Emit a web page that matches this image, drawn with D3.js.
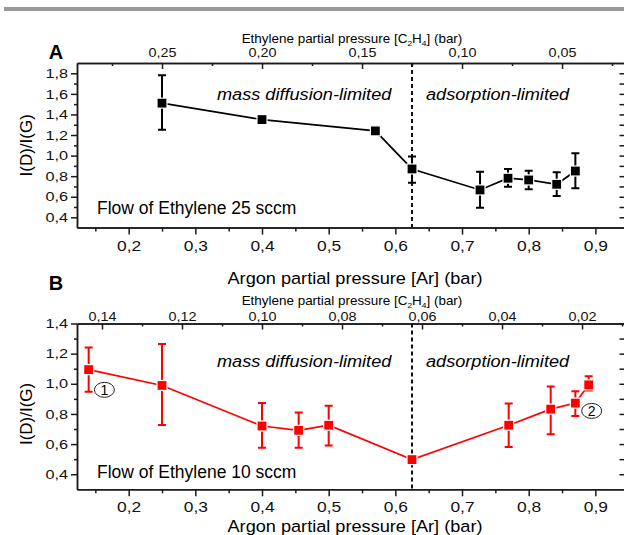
<!DOCTYPE html>
<meta charset="utf-8">
<style>
body { margin: 0; background: #fff; }
svg { display: block; font-family: "Liberation Sans", Arial, sans-serif; }
.axis path, .axis line { stroke: #1a1a1a; stroke-width: 1.5px; }
.axis text { fill: #111; font-family: "Liberation Sans", Arial, sans-serif; }
.wide { transform-box: fill-box; transform-origin: 50% 50%; }
.bar { fill: #999; }
.line { fill: none; stroke-width: 1.7px; }
.err { stroke-width: 2px; fill: none; }
.divider { stroke: #111; stroke-width: 2px; stroke-dasharray: 4,3; }
</style>
<svg width="624" height="535"></svg>
<script src="https://d3js.org/d3.v7.min.js"></script>
<script>
// Panel A: flow of ethylene 25 sccm
var arA    = [0.25, 0.40, 0.57, 0.625, 0.727, 0.769, 0.80, 0.842, 0.87];
var ratioA = [1.51, 1.35, 1.24, 0.87, 0.666, 0.78, 0.763, 0.721, 0.85];
var loA    = [1.25, null, null, 0.737, 0.494, 0.698, 0.673, 0.607, 0.682];
var hiA    = [1.78, null, null, 0.99, 0.844, 0.87, 0.853, 0.838, 1.022];

// Panel B: flow of ethylene 10 sccm
var arB    = [0.14, 0.25, 0.40, 0.455, 0.50, 0.625, 0.77, 0.833, 0.87, 0.89];
var ratioB = [1.094, 0.989, 0.72, 0.691, 0.725, 0.497, 0.725, 0.832, 0.872, 0.993];
var loB    = [0.948, 0.727, 0.575, 0.575, 0.59, null, 0.58, 0.666, 0.787, 0.955];
var hiB    = [1.24, 1.264, 0.872, 0.81, 0.854, null, 0.87, 0.982, 0.95, 1.05];

var arTicks   = [0.2, 0.3, 0.4, 0.5, 0.6, 0.7, 0.8, 0.9];
var ethTicksA = [0.25, 0.20, 0.15, 0.10, 0.05];
var ethTicksB = [0.14, 0.12, 0.10, 0.08, 0.06, 0.04, 0.02];
var yTicksA   = [0.4, 0.6, 0.8, 1.0, 1.2, 1.4, 1.6, 1.8];
var yTicksB   = [0.4, 0.6, 0.8, 1.0, 1.2, 1.4];
var boundary  = 0.625;

var svg = d3.select("svg");

svg.append("rect").attr("class", "bar")
    .attr("x", 4).attr("y", 7).attr("width", 620).attr("height", 4);

var x = d3.scaleLinear().domain([0.1225, 0.9437]).range([77, 624.5]);

function comma(n) {
  return function(d) { return d.toFixed(n).replace(".", ","); };
}

function stretch(sel, sx) {
  sel.classed("wide", true).style("transform", "scaleX(" + sx + ")");
}

function drawPanel(p) {
  var y = d3.scaleLinear().domain(p.yDomain).range([p.bottom, p.top]);
  var eth = d3.scaleLinear()
      .domain(x.domain().map(function(a) { return (1 - a) / p.ethFactor; }))
      .range(x.range());
  var g = svg.append("g");

  // bottom axis (outward ticks)
  var bx = g.append("g").attr("class", "axis")
      .attr("transform", "translate(0," + p.bottom + ")")
      .call(d3.axisBottom(x).tickValues(arTicks).tickFormat(comma(1))
        .tickSizeInner(7).tickSizeOuter(0).tickPadding(p.bottomPad));
  bx.selectAll("text").style("font-size", "14.5px").call(stretch, 1.2);
  g.append("g").attr("class", "axis")
      .attr("transform", "translate(0," + p.bottom + ")")
      .call(d3.axisBottom(x).tickValues(d3.range(0.15, 0.9, 0.1)).tickFormat("")
        .tickSizeInner(4).tickSizeOuter(0));

  // top axis (ethylene, inward ticks)
  var tx = g.append("g").attr("class", "axis")
      .attr("transform", "translate(0," + p.top + ")")
      .call(d3.axisTop(eth).tickValues(p.ethTicks).tickFormat(comma(2))
        .tickSizeInner(-6).tickSizeOuter(0).tickPadding(p.topPad));
  tx.selectAll("text").style("font-size", "12px").call(stretch, 1.2);
  g.append("g").attr("class", "axis")
      .attr("transform", "translate(0," + p.top + ")")
      .call(d3.axisTop(eth).tickValues(p.ethMinor).tickFormat("")
        .tickSizeInner(-3).tickSizeOuter(0));

  // left axis (outward ticks)
  var ly = g.append("g").attr("class", "axis")
      .attr("transform", "translate(" + x.range()[0] + ",0)")
      .call(d3.axisLeft(y).tickValues(p.yTicks).tickFormat(comma(1))
        .tickSizeInner(6).tickSizeOuter(0).tickPadding(3));
  ly.selectAll("text").style("font-size", "13px").call(stretch, 1.25)
      .style("transform-origin", "100% 50%");
  g.append("g").attr("class", "axis")
      .attr("transform", "translate(" + x.range()[0] + ",0)")
      .call(d3.axisLeft(y).tickValues(p.yMinor).tickFormat("")
        .tickSizeInner(3).tickSizeOuter(0));

  // right axis (inward ticks, no labels)
  g.append("g").attr("class", "axis")
      .attr("transform", "translate(" + x.range()[1] + ",0)")
      .call(d3.axisRight(y).tickValues(p.yTicks.concat(p.yMinor)).tickFormat("")
        .tickSizeInner(-5).tickSizeOuter(0));

  // axis titles
  var et = g.append("text")
      .attr("x", 352).attr("y", p.ethTitleY)
      .attr("text-anchor", "middle")
      .style("font-size", "12px");
  et.append("tspan").text("Ethylene partial pressure [C");
  et.append("tspan").text("2").attr("dy", 3).style("font-size", "7.5px");
  et.append("tspan").text("H").attr("dy", -3);
  et.append("tspan").text("4").attr("dy", 3).style("font-size", "7.5px");
  et.append("tspan").text("] (bar)").attr("dy", -3);
  stretch(et, 1.12);

  var at = g.append("text")
      .attr("x", 355).attr("y", p.arTitleY)
      .attr("text-anchor", "middle")
      .style("font-size", "16.5px")
      .text("Argon partial pressure [Ar] (bar)");
  stretch(at, 1.1);

  g.append("text")
      .attr("transform", "translate(32," + y(p.yTitleAt) + ") rotate(-90)")
      .attr("text-anchor", "middle")
      .style("font-size", "17px")
      .text("I(D)/I(G)");

  g.append("text")
      .attr("x", 56).attr("y", p.letterY)
      .attr("text-anchor", "middle")
      .style("font-size", "20px").style("font-weight", "bold")
      .text(p.letter);

  // regime labels
  var m = g.append("text").attr("x", 217).attr("y", p.regimeY)
      .style("font-size", "16.5px").style("font-style", "italic")
      .text("mass diffusion-limited");
  stretch(m, 1.1);
  m.style("transform-origin", "0% 50%");
  var a = g.append("text").attr("x", 426).attr("y", p.regimeY)
      .style("font-size", "16.5px").style("font-style", "italic")
      .text("adsorption-limited");
  stretch(a, 1.1);
  a.style("transform-origin", "0% 50%");

  g.append("text").attr("x", 97).attr("y", p.flowY)
      .style("font-size", "17.5px")
      .text(p.flow);

  // regime boundary
  g.append("line").attr("class", "divider")
      .attr("x1", x(boundary)).attr("x2", x(boundary))
      .attr("y1", p.top).attr("y2", p.bottom);

  var pts = p.ar.map(function(v, i) {
    return { ar: v, r: p.ratio[i], lo: p.lo[i], hi: p.hi[i] };
  });

  // error bars
  g.selectAll(".eb").data(pts.filter(function(d) { return d.lo != null; }))
    .enter().append("path").attr("class", "err")
      .attr("stroke", p.color)
      .attr("d", function(d) {
        var cx = x(d.ar), t = y(d.hi), b = y(d.lo);
        return "M" + (cx - 4) + "," + t + "H" + (cx + 4) +
               "M" + cx + "," + t + "V" + b +
               "M" + (cx - 4) + "," + b + "H" + (cx + 4);
      });

  g.append("path").datum(pts).attr("class", "line")
      .attr("stroke", p.color)
      .attr("d", d3.line().x(function(d) { return x(d.ar); })
                          .y(function(d) { return y(d.r); }));

  g.selectAll(".pt").data(pts).enter().append("rect")
      .attr("x", function(d) { return x(d.ar) - 5; })
      .attr("y", function(d) { return y(d.r) - 5; })
      .attr("width", 10).attr("height", 10)
      .attr("fill", p.color)
      .attr("stroke", "#fff").attr("stroke-width", 1.2);

  return { x: x, y: y, g: g };
}

drawPanel({
  top: 63, bottom: 227.6, yDomain: [0.3, 1.9],
  yTicks: yTicksA, yMinor: d3.range(0.5, 1.8, 0.2),
  ethFactor: 3, ethTicks: ethTicksA, ethMinor: d3.range(0.275, 0.02, -0.05),
  ar: arA, ratio: ratioA, lo: loA, hi: hiA, color: "#000",
  letter: "A", letterY: 59, ethTitleY: 43.5, arTitleY: 284.5,
  topPad: 6.5, bottomPad: 6, yTitleAt: 1.1, regimeY: 100, flowY: 214,
  flow: "Flow of Ethylene 25 sccm"
});

var pb = drawPanel({
  top: 323.5, bottom: 489.3, yDomain: [0.3, 1.4],
  yTicks: yTicksB, yMinor: d3.range(0.5, 1.4, 0.2),
  ethFactor: 6, ethTicks: ethTicksB, ethMinor: d3.range(0.13, 0.005, -0.02),
  ar: arB, ratio: ratioB, lo: loB, hi: hiB, color: "#ff0000",
  letter: "B", letterY: 290, ethTitleY: 305, arTitleY: 532,
  topPad: 3, bottomPad: 5, yTitleAt: 0.8, regimeY: 367.5, flowY: 478,
  flow: "Flow of Ethylene 10 sccm"
});

// circled sample markers in panel B
var marks = [{ n: "1", ar: 0.1636, r: 0.96 }, { n: "2", ar: 0.8945, r: 0.82 }];
marks.forEach(function(d) {
  var cx = pb.x(d.ar), cy = pb.y(d.r);
  pb.g.append("ellipse").attr("cx", cx).attr("cy", cy)
      .attr("rx", 10).attr("ry", 7.5)
      .attr("fill", "none").attr("stroke", "#222").attr("stroke-width", 1);
  pb.g.append("text").attr("x", cx).attr("y", cy + 5)
      .attr("text-anchor", "middle").style("font-size", "14px")
      .text(d.n);
});
</script>
